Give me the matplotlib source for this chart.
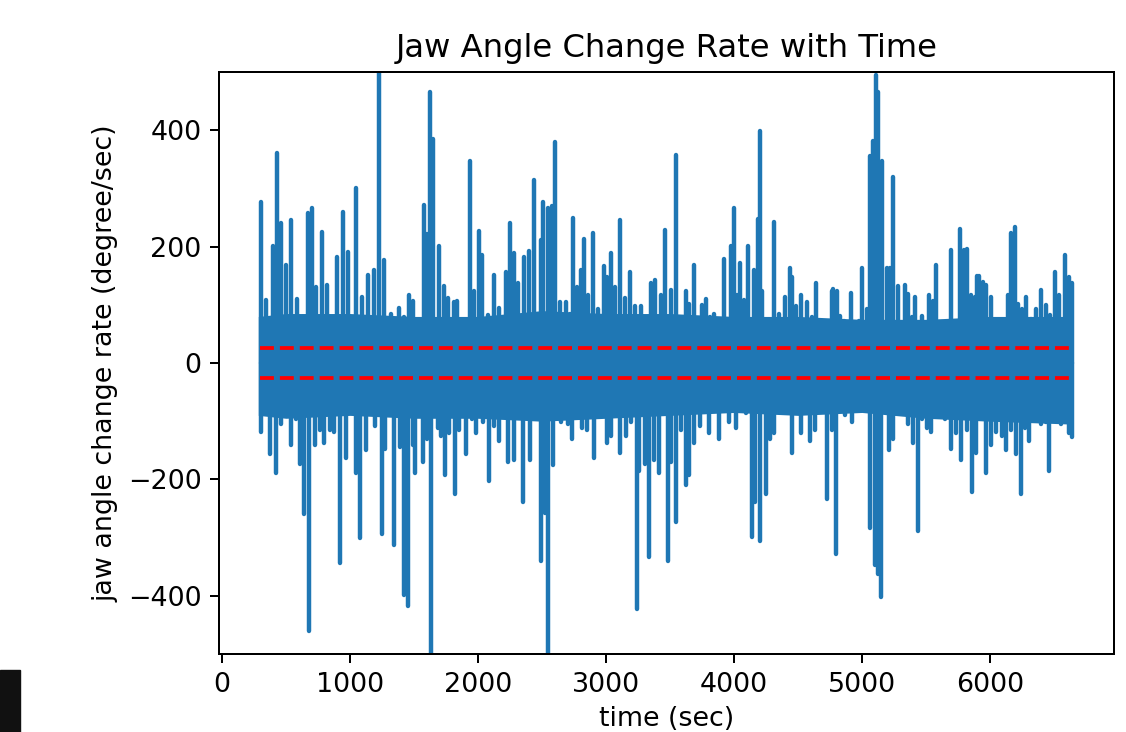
import numpy as np
import matplotlib

matplotlib.use("Agg")
import matplotlib.pyplot as plt
from matplotlib.patches import Rectangle

# upward spikes: time (sec), rate (degree/sec)
up_t = [304, 348, 400, 434, 460, 499, 540, 590, 634, 673, 702, 738, 782, 821, 855, 902, 946, 985,
        1011, 1050, 1096, 1141, 1187, 1231, 1263, 1322, 1380, 1426, 1465, 1491, 1530, 1577, 1603,
        1629, 1647, 1699, 1733, 1764, 1816, 1837, 1881, 1941, 1972, 2011, 2029, 2076, 2122, 2167,
        2219, 2253, 2279, 2310, 2357, 2396, 2440, 2492, 2510, 2544, 2578, 2603, 2640, 2687, 2718,
        2746, 2777, 2803, 2829, 2863, 2899, 2941, 2985, 3011, 3037, 3071, 3110, 3149, 3185, 3230,
        3271, 3305, 3349, 3383, 3427, 3461, 3505, 3544, 3622, 3648, 3687, 3718, 3752, 3785, 3817,
        3848, 3882, 3921, 3946, 3980, 4004, 4024, 4045, 4076, 4110, 4154, 4185, 4201, 4222, 4245,
        4284, 4315, 4349, 4401, 4435, 4453, 4487, 4523, 4575, 4609, 4643, 4687, 4765, 4778, 4804,
        4830, 4864, 4895, 4916, 4947, 4978, 5004, 5038, 5064, 5085, 5108, 5128, 5136, 5160, 5194,
        5220, 5246, 5279, 5305, 5337, 5362, 5388, 5414, 5440, 5466, 5492, 5526, 5557, 5583, 5622,
        5656, 5700, 5739, 5765, 5799, 5825, 5856, 5882, 5903, 5916, 5947, 5973, 6012, 6046, 6077,
        6108, 6142, 6168, 6194, 6220, 6253, 6284, 6323, 6362, 6401, 6435, 6471, 6508, 6539, 6565,
        6591, 6622, 6640]
up_v = [276, 108, 201, 360, 241, 169, 245, 110, 79, 258, 266, 130, 225, 134, 66, 182, 260, 190,
        79, 300, 114, 151, 160, 560, 177, 85, 95, 79, 117, 106, 66, 272, 221,
        465, 385, 201, 132, 112, 105, 106, 59, 347, 124, 226, 185, 82, 151, 95,
        156, 240, 189, 137, 182, 192, 314, 211, 276, 267, 269, 379, 105, 105, 85,
        250, 130, 160, 213, 117, 223, 92, 166, 147, 189, 130, 245, 111, 156, 98,
        98, 71, 137, 142, 117, 229, 125, 358, 124, 101, 169, 66, 99, 110, 79,
        85, 66, 179, 72, 201, 267, 117, 172, 108, 201, 160, 247, 398, 124, 59,
        66, 243, 85, 114, 163, 147, 98, 116, 105, 79, 137, 72, 124, 127, 124,
        80, 72, 53, 121, 59, 72, 163, 92, 355, 382, 495, 466, 253, 347, 163,
        163, 320, 132, 40, 134, 119, 79, 114, 63, 80, 53, 117, 106, 169, 53,
        66, 194, 59, 230, 195, 196, 117, 114, 150, 150, 140, 134, 114, 66, 67,
        61, 117, 224, 234, 101, 92, 114, 76, 92, 125, 99, 82, 156, 117, 59,
        185, 147, 137]

# downward spikes
lo_t = [304, 335, 379, 421, 465, 540, 582, 608, 639, 681, 725, 764, 795, 842, 876, 920, 972, 1011,
        1050, 1081, 1128, 1192, 1247, 1276, 1341, 1375, 1388, 1426, 1452, 1491, 1510, 1569, 1603,
        1634, 1686, 1712, 1743, 1777, 1821, 1855, 1907, 1951, 1985, 2037, 2089, 2122, 2167, 2232,
        2279, 2349, 2409, 2440, 2492, 2525, 2544, 2583, 2648, 2700, 2739, 2811, 2855, 2907, 2946,
        3006, 3037, 3107, 3154, 3193, 3240, 3258, 3305, 3336, 3375, 3414, 3487, 3505, 3544, 3583,
        3622, 3648, 3687, 3739, 3804, 3882, 3934, 3959, 4019, 4063, 4097, 4141, 4167, 4201, 4253,
        4279, 4310, 4349, 4401, 4453, 4487, 4523, 4557, 4596, 4635, 4674, 4731, 4765, 4770, 4796,
        4830, 4869, 4921, 4973, 5025, 5064, 5102, 5128, 5149, 5181, 5212, 5246, 5285, 5324, 5362,
        5401, 5435, 5466, 5505, 5544, 5583, 5622, 5653, 5695, 5739, 5778, 5825, 5861, 5895, 5934,
        5973, 6012, 6051, 6098, 6129, 6168, 6207, 6240, 6271, 6305, 6349, 6401, 6435, 6466, 6518,
        6557, 6583, 6617, 6638]
lo_v = [-118, -83, -157, -189, -105, -141, -96, -173, -260, -460, -141, -115, -137, -115, -118, -344, -163, -76,
        -189, -301, -150, -108, -294, -147, -312, -76, -144, -399, -418, -141, -189, -170, -131,
        -560, -112, -125, -192, -121, -225, -115, -157, -96, -121, -102, -202, -108, -134, -170,
        -167, -238, -167, -76, -341, -257, -560, -176, -102, -105, -131, -112, -115, -163, -70,
        -137, -125, -154, -125, -102, -422, -186, -173, -334, -167, -189, -341, -170, -273, -115,
        -209, -192, -137, -108, -120, -131, -63, -102, -112, -44, -86, -299, -238, -305, -225,
        -131, -121, -79, -63, -154, -70, -121, -76, -134, -115, -70, -234, -115, -83, -328,
        -83, -89, -102, -54, -76, -283, -347, -363, -402, -66, -150, -131, -86, -86, -105,
        -137, -289, -96, -112, -118, -76, -86, -96, -147, -121, -167, -115, -221, -154, -92,
        -189, -141, -118, -125, -150, -115, -157, -225, -112, -134, -76, -105, -102, -186, -86,
        -105, -89, -121, -128]

# dense core of the signal (solid band around zero)
core_t = [284, 500, 1000, 1500, 2000, 2500, 3000, 3500, 4000, 4500, 5000, 5500, 6000, 6642]
core_hi = [80, 85, 85, 80, 80, 90, 85, 85, 80, 80, 75, 75, 80, 80]
core_lo = [-90, -95, -90, -95, -95, -100, -95, -90, -85, -90, -85, -95, -100, -105]

threshold = 25
t_start, t_end = 296, 6633

BLUE = "#1f77b4"

fig = plt.figure(figsize=(11.26, 7.32), dpi=100)
ax = fig.add_axes([219 / 1126, 1 - 654 / 732, (1114 - 219) / 1126, (654 - 72) / 732])

ax.fill_between(core_t, core_lo, core_hi, color=BLUE, lw=0)
ax.vlines(up_t, 0, up_v, colors=BLUE, lw=3.2, capstyle="round")
ax.vlines(lo_t, lo_v, 0, colors=BLUE, lw=3.2, capstyle="round")
ax.hlines([threshold, -threshold], t_start, t_end, colors="red", linestyles="--", lw=2.7)

ax.set_xlim(-23, 6970)
ax.set_ylim(-500, 500)
ax.set_xticks([0, 1000, 2000, 3000, 4000, 5000, 6000])
ax.set_yticks([-400, -200, 0, 200, 400])
ax.tick_params(labelsize=19.4, length=6.3, width=1.44, pad=6.3)
for s in ax.spines.values():
    s.set_linewidth(1.44)

ax.set_title("Jaw Angle Change Rate with Time", fontsize=23.2, pad=10.8)
ax.set_xlabel("time (sec)", fontsize=19.4, labelpad=6)
ax.set_ylabel("jaw angle change rate (degree/sec)", fontsize=19.4, labelpad=7)

# dark screenshot edge in the lower-left corner
fig.patches.append(Rectangle((0, 0), 20 / 1126, 62 / 732, transform=fig.transFigure,
                             color="#111111", zorder=10))

fig.savefig("out.png", dpi=100)
